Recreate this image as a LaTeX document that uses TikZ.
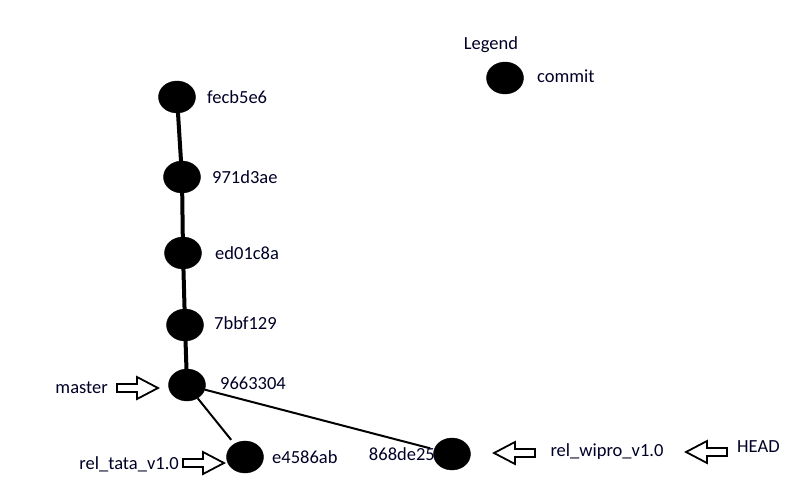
\documentclass[tikz,border=0pt]{standalone}
\usepackage{fontspec}
\setmainfont{Carlito}
\usetikzlibrary{shapes.geometric}
\begin{document}
\begin{tikzpicture}[x=1pt,y=-1pt,
  commit/.style={ellipse,fill=black,draw=black,minimum width=37pt,minimum height=32pt,inner sep=0pt},
  lbl/.style={inner sep=0pt,font=\fontsize{18.5}{20}\selectfont,text=black!85!blue},
  trunk/.style={line width=4pt},
  branch/.style={line width=2pt},
  barrow/.pic={\draw[line width=1.8pt,fill=white,line join=miter]
     (0,-4)--(20,-4)--(20,-11)--(41,0)--(20,11)--(20,4)--(0,4)--cycle;}
]
\useasboundingbox (0,0) rectangle (800,488);
% commits
\node[commit] (c1) at (177,97) {};
\node[commit] (c2) at (182,177) {};
\node[commit] (c3) at (183,253) {};
\node[commit] (c4) at (185,325) {};
\node[commit] (c5) at (187,385) {};
\node[commit] (c6) at (245,457) {};
\node[commit] (c7) at (452,454) {};
% edges
\draw[trunk] (c1.center) -- (c2.center);
\draw[trunk] (c2.center) -- (c3.center);
\draw[trunk] (c3.center) -- (c4.center);
\draw[trunk] (c4.center) -- (c5.center);
\draw[branch,shorten >=5pt] (c5) -- (c6);
\draw[branch,shorten >=4pt] (c5) -- (c7);
% labels
\node[lbl,anchor=west] (l1) at (207,97) {fecb5e6};
\node[lbl,anchor=west] (l2) at (212,177) {971d3ae};
\node[lbl,anchor=west] (l3) at (215,253) {ed01c8a};
\node[lbl,anchor=west] (l4) at (214,323) {7bbf129};
\node[lbl,anchor=west] (l5) at (220,383) {9663304};
\node[lbl,anchor=west] (l6) at (272,457) {e4586ab};
\node[lbl,anchor=east] (l7) at (435,454) {868de25};
% legend
\node[lbl] (leg) at (491,45) {Legend};
\node[commit] (lc) at (505,78) {};
\node[lbl,anchor=west] (lct) at (537,76) {commit};
% refs
\node[lbl,anchor=east] (master) at (108,388) {master};
\pic (am) at (117,388) {barrow};
\node[lbl,anchor=east] (tata) at (179,464) {rel\_tata\_v1.0};
\pic (at) at (183,463) {barrow};
\node[lbl] (wipro) at (607,452) {rel\_wipro\_v1.0};
\pic[xscale=-1] (aw) at (535,453) {barrow};
\node[lbl,anchor=west] (head) at (737,447) {HEAD};
\pic[xscale=-1] (ah) at (727,452) {barrow};
\end{tikzpicture}
\end{document}
